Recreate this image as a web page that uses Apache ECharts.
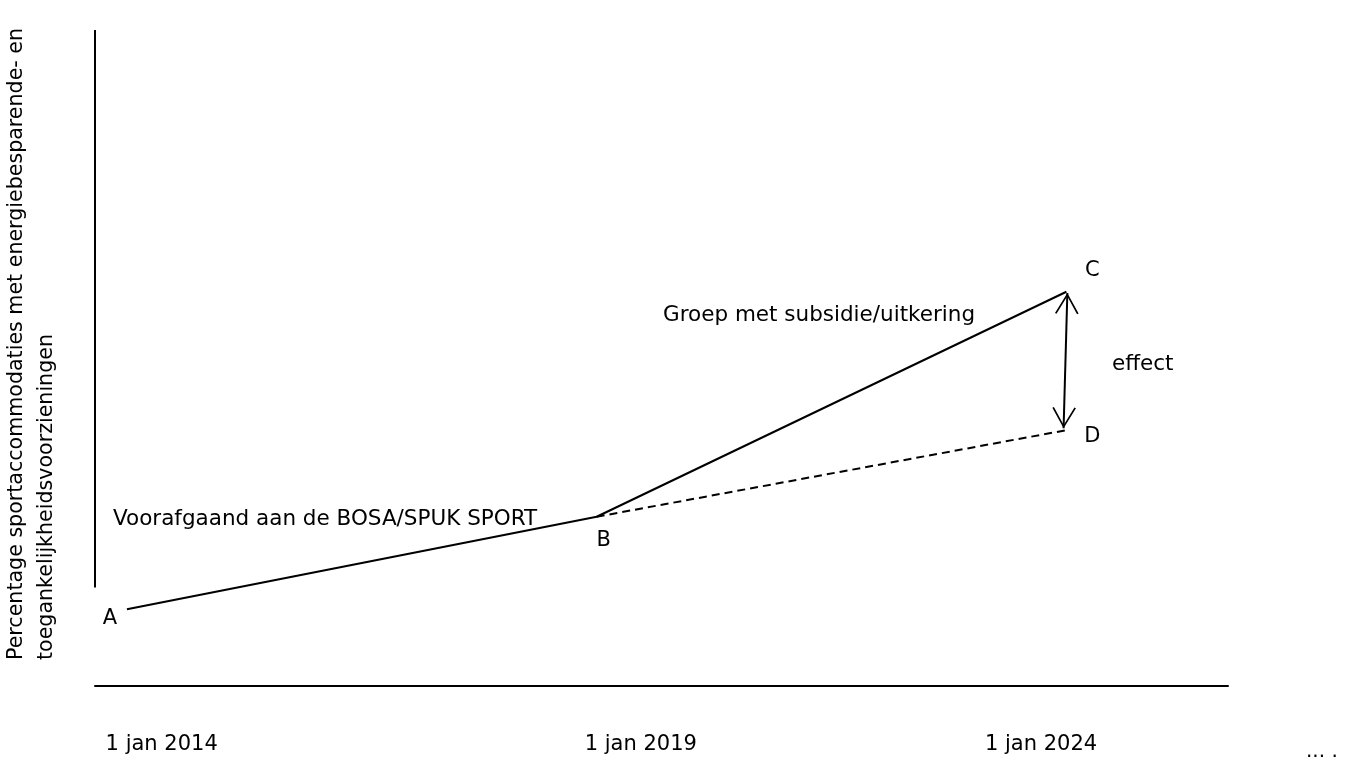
<!DOCTYPE html>
<html><head><meta charset="utf-8">
<script src="https://cdn.jsdelivr.net/npm/echarts@6/dist/echarts.min.js"></script>
<style>html,body{margin:0;padding:0;background:#fff}#c{width:1345px;height:758px}</style>
</head><body><div id="c"></div>
<script>
// schematic: x = year, y = percentage (arbitrary scale 0-100)
const pointNames = ['A', 'B', 'C', 'D'];
const pointX = [2014, 2019, 2024, 2024];
const pointY = [11.7, 25.8, 60.1, 39.0];
const solidPath = ['A', 'B', 'C'];
const dashedPath = ['B', 'D'];
const tickLabels = ['1 jan 2014', '1 jan 2019', '1 jan 2024'];
const tickValues = [2014.37, 2019.47, 2023.73];
const yTitle = 'Percentage sportaccommodaties met energiebesparende- en\ntoegankelijkheidsvoorzieningen';
const segLabelPre = 'Voorafgaand aan de BOSA/SPUK SPORT';
const segLabelPost = 'Groep met subsidie/uitkering';
const effectLabel = 'effect';

const FONT = 'DejaVu Sans';
const pt = n => { const i = pointNames.indexOf(n); return [pointX[i], pointY[i]]; };
const labelOffsets = {A: [-17, 9], B: [7, 24], C: [26, -21], D: [26, 6]};
const xMin = 2013.66, xMax = 2025.72;
// open chevron with its tip at the centre of a square box (tiny slivers fix the bounding box)
const chev = 'path://M0,0 L-10,17 L-8.7,17.7 L0,2.6 L8.7,17.7 L10,17 Z ' +
  'M0,-17.8 L0.05,-17.8 L0.05,-17.75 Z M-17.8,0 L-17.75,0 L-17.75,0.05 Z M17.75,0 L17.8,0 L17.8,0.05 Z';

const chart = echarts.init(document.getElementById('c'));
chart.setOption({
  animation: false,
  grid: {left: 95, right: 117, top: 30, bottom: 72},
  xAxis: {
    type: 'value', min: xMin, max: xMax,
    axisLine: {show: true, onZero: false, lineStyle: {color: '#000', width: 2}},
    axisTick: {show: false}, splitLine: {show: false},
    axisLabel: {
      customValues: tickValues, margin: 48,
      formatter: v => { const i = tickValues.findIndex(t => Math.abs(t - v) < 1e-6); return i >= 0 ? tickLabels[i] : ''; },
      color: '#000', fontFamily: FONT, fontSize: 21
    }
  },
  yAxis: {
    type: 'value', min: 0, max: 100,
    axisLine: {show: false}, axisTick: {show: false}, splitLine: {show: false}, axisLabel: {show: false}
  },
  series: [
    {
      type: 'line', data: solidPath.map(pt), symbol: 'none',
      lineStyle: {color: '#000', width: 2},
      markLine: {
        silent: true, animation: false,
        symbol: ['none', 'none'],
        lineStyle: {color: '#000', width: 2, type: 'solid'},
        label: {show: false},
        data: [[{coord: [xMin, 15]}, {coord: [xMin, 100]}]]
      }
    },
    {
      type: 'line', data: dashedPath.map(pt), symbol: 'none',
      lineStyle: {color: '#000', width: 2, type: [8, 5]}
    },
    {
      type: 'line', data: [], symbol: 'none',
      markLine: {
        silent: true, animation: false,
        symbol: [chev, chev], symbolSize: 42,
        lineStyle: {color: '#000', width: 2, type: 'solid'},
        label: {show: false},
        data: [[{coord: [pointX[2] + 0.01, pointY[2] - 0.2]}, {coord: [pointX[3] - 0.03, pointY[3] + 0.3]}]]
      }
    }
  ],
  graphic: [
    {type: 'text', left: 113, top: 508, style: {text: segLabelPre, font: '21.5px "DejaVu Sans"', fill: '#000'}},
    {type: 'text', left: 663, top: 304, style: {text: segLabelPost, font: '21.5px "DejaVu Sans"', fill: '#000'}},
    {type: 'text', left: 1112, top: 353, style: {text: effectLabel, font: '21.5px "DejaVu Sans"', fill: '#000'}},
    {type: 'text', x: 32, y: 660, rotation: Math.PI / 2,
      style: {text: yTitle, font: '20.6px "DejaVu Sans"', fill: '#000', align: 'left', verticalAlign: 'middle', lineHeight: 30}},
    {type: 'text', left: 1306, top: 742, style: {text: '... .', font: '20px "DejaVu Sans"', fill: '#000'}}
  ]
});

// point letters placed through the chart's own scales
const letterGraphics = pointNames.map((n, i) => {
  const p = chart.convertToPixel({gridIndex: 0}, [pointX[i], pointY[i]]);
  return {type: 'text', id: 'lbl' + n, x: p[0] + labelOffsets[n][0], y: p[1] + labelOffsets[n][1],
    style: {text: n, font: '21px "DejaVu Sans"', fill: '#000', align: 'center', verticalAlign: 'middle'}};
});
chart.setOption({graphic: letterGraphics});
</script></body></html>
